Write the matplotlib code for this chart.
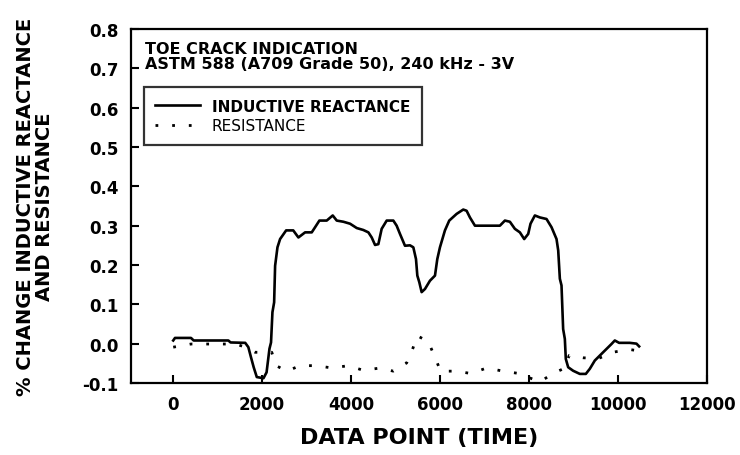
import matplotlib
matplotlib.use("Agg")
import matplotlib.pyplot as plt

plt.rcParams['font.family'] = ['DejaVu Sans']

# inductive reactance trace (% change vs data point)
react_x = [0, 40, 400, 460, 1240, 1290, 1620, 1690, 1750, 1810,
           1880, 2030, 2100, 2165, 2200, 2232, 2270, 2292, 2345, 2404,
           2540, 2700, 2816, 2966, 3116, 3191, 3288, 3453, 3588, 3678,
           3828, 3978, 4128, 4277, 4390, 4465, 4540, 4614, 4689, 4802,
           4951, 5026, 5101, 5213, 5326, 5401, 5461, 5491, 5536, 5588,
           5663, 5775, 5888, 5940, 6000, 6112, 6209, 6375, 6524, 6599,
           6674, 6787, 7348, 7461, 7573, 7685, 7798, 7895, 7985, 8037,
           8135, 8247, 8397, 8510, 8622, 8660, 8697, 8734, 8771, 8809,
           8831, 8884, 8996, 9146, 9281, 9371, 9483, 9670, 9858, 9933,
           10030, 10270, 10420, 10480]
react_y = [0.008, 0.0145, 0.0145, 0.008, 0.008, 0.003, 0.002, -0.009, -0.035, -0.06,
           -0.085, -0.088, -0.073, -0.013, 0.003, 0.08, 0.105, 0.198, 0.245, 0.266,
           0.288, 0.288, 0.27, 0.283, 0.283, 0.296, 0.313, 0.313, 0.326, 0.313,
           0.31, 0.305, 0.294, 0.289, 0.283, 0.27, 0.251, 0.253, 0.292, 0.313,
           0.313, 0.3, 0.279, 0.249, 0.25, 0.245, 0.215, 0.173, 0.156, 0.131,
           0.139, 0.16, 0.173, 0.215, 0.245, 0.288, 0.313, 0.33, 0.341, 0.338,
           0.321, 0.3, 0.3, 0.313, 0.31, 0.292, 0.283, 0.266, 0.279, 0.305,
           0.326, 0.321, 0.317, 0.296, 0.266, 0.237, 0.165, 0.148, 0.037, 0.012,
           -0.039, -0.06, -0.069, -0.077, -0.077, -0.064, -0.043, -0.022, -0.001, 0.008,
           0.002, 0.002, 0.0, -0.007]

# resistance trace
resist_x = [0, 400, 1400, 1600, 1843, 2217, 2315, 2554, 2854, 3213,
            3580, 3940, 4277, 4652, 4951, 5251, 5378, 5491, 5738, 5888,
            6015, 6375, 6697, 7049, 7423, 7783, 8060, 8247, 8547, 8809,
            8906, 9220, 9558, 9933, 10270, 10450]
resist_y = [-0.009, -0.001, -0.001, -0.008, -0.022, -0.022, -0.056, -0.07, -0.056, -0.056,
            -0.062, -0.056, -0.068, -0.062, -0.07, -0.049, -0.016, 0.02, 0.005, -0.035,
            -0.07, -0.07, -0.076, -0.062, -0.07, -0.076, -0.089, -0.097, -0.076, -0.062,
            -0.03, -0.036, -0.038, -0.021, -0.015, -0.018]

xticks = [0, 2000, 4000, 6000, 8000, 10000, 12000]
yticks = [-0.1, 0.0, 0.1, 0.2, 0.3, 0.4, 0.5, 0.6, 0.7, 0.8]
ytick_labels = ["-0.1", "0.0", "0.1", "0.2", "0.3", "0.4", "0.5", "0.6", "0.7", "0.8"]

fig = plt.figure(figsize=(7.4, 4.56), dpi=100)
ax = fig.add_axes([0.177, 0.158, 0.778, 0.776])

ax.plot(react_x, react_y, color='black', lw=1.9, label='INDUCTIVE REACTANCE')
ax.plot(resist_x, resist_y, color='black', lw=2.0, linestyle=(0, (1, 5)),
        label='RESISTANCE')

ax.set_xlim(-950, 12000)
ax.set_ylim(-0.1, 0.8)
ax.set_xticks(xticks)
ax.set_xticklabels([str(t) for t in xticks])
ax.set_yticks(yticks)
ax.set_yticklabels(ytick_labels)
ax.tick_params(direction='in', length=6, width=1.5, top=False, right=False,
               labelsize=12, pad=9)
for lab in ax.get_xticklabels() + ax.get_yticklabels():
    lab.set_fontweight('bold')
for sp in ax.spines.values():
    sp.set_linewidth(1.6)

ax.set_xlabel('DATA POINT (TIME)', fontsize=16, fontweight='bold', labelpad=10)
ax.set_ylabel('% CHANGE INDUCTIVE REACTANCE\nAND RESISTANCE', fontsize=14,
              fontweight='bold', labelpad=20, linespacing=1.0)

ax.text(0.024, 0.966, 'TOE CRACK INDICATION', transform=ax.transAxes,
        fontsize=11.5, fontweight='bold', va='top')
ax.text(0.024, 0.925, 'ASTM 588 (A709 Grade 50), 240 kHz - 3V', transform=ax.transAxes,
        fontsize=11.5, fontweight='bold', va='top')

leg = ax.legend(loc='upper left', bbox_to_anchor=(0.0226, 0.836), fontsize=11,
                frameon=True, fancybox=False, handlelength=2.9, borderpad=0.75,
                labelspacing=0.3, borderaxespad=0, handletextpad=0.8)
leg.get_frame().set_edgecolor('black')
leg.get_frame().set_linewidth(1.6)
leg.get_texts()[0].set_fontweight('bold')

fig.savefig('out.png', dpi=100)
